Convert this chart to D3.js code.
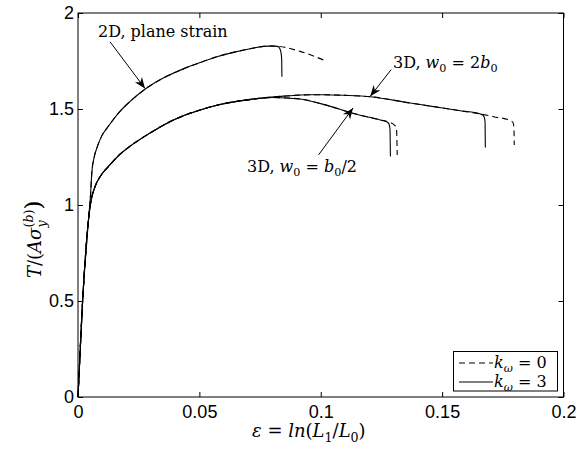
<!DOCTYPE html>
<html lang="en">
<head>
  <meta charset="UTF-8">
  <title>T/(A sigma) vs strain</title>
  <script src="https://cdn.jsdelivr.net/npm/d3@7"></script>
  <style>
    body { margin: 0; background: #fff; }
  </style>
</head>
<body>
  <div id="box"></div>
  <script>
    // 画布
    const width = 586
    const height = 456
    const margin = { left: 78, right: 22.5, top: 13, bottom: 59 }

    // 刻度
    const xTicks = [0, 0.05, 0.1, 0.15, 0.2]
    const xTickLabels = ['0', '0.05', '0.1', '0.15', '0.2']
    const yTicks = [0, 0.5, 1, 1.5, 2]
    const yTickLabels = ['0', '0.5', '1', '1.5', '2']

    // 2D, plane strain
    const plane2D_k3 = [
      [0, 0], [0.0019, 0.5], [0.0043, 0.92], [0.0052, 1.06], [0.0057, 1.17], [0.0066, 1.245],
      [0.008, 1.305], [0.0098, 1.36], [0.0125, 1.41], [0.0173, 1.488], [0.0215, 1.54],
      [0.0276, 1.603], [0.0365, 1.67], [0.0434, 1.709], [0.0503, 1.742],
      [0.0572, 1.772], [0.064, 1.795], [0.0709, 1.814], [0.0765, 1.826], [0.08, 1.829],
      [0.0822, 1.826], [0.0831, 1.815], [0.0836, 1.795], [0.0839, 1.76], [0.084, 1.668]
    ]
    const plane2D_k0 = [
      [0, 0], [0.0019, 0.5], [0.0043, 0.92], [0.0052, 1.06], [0.0057, 1.17], [0.0066, 1.245],
      [0.008, 1.305], [0.0098, 1.36], [0.0125, 1.41], [0.0173, 1.488], [0.0215, 1.54],
      [0.0276, 1.603], [0.0365, 1.67], [0.0434, 1.709], [0.0503, 1.742],
      [0.0572, 1.772], [0.064, 1.795], [0.0709, 1.814], [0.0765, 1.826], [0.0812, 1.827],
      [0.0915, 1.8], [0.1012, 1.755]
    ]

    // 3D, w0 = 2b0
    const wide3D_k3 = [
      [0, 0], [0.0019, 0.5], [0.0043, 0.92], [0.0052, 1.01], [0.007, 1.095], [0.0095, 1.155],
      [0.0125, 1.2], [0.0165, 1.255], [0.0208, 1.3], [0.0297, 1.375], [0.0365, 1.425],
      [0.0434, 1.465], [0.0503, 1.495], [0.0572, 1.52], [0.0709, 1.55], [0.0847, 1.567],
      [0.0957, 1.574], [0.1012, 1.574], [0.11, 1.571], [0.1204, 1.564], [0.1369, 1.531],
      [0.1452, 1.515], [0.1575, 1.491], [0.1658, 1.474], [0.1668, 1.468], [0.1674, 1.455],
      [0.1677, 1.43], [0.1678, 1.3]
    ]
    const wide3D_k0 = [
      [0, 0], [0.0019, 0.5], [0.0043, 0.92], [0.0052, 1.01], [0.007, 1.095], [0.0095, 1.155],
      [0.0125, 1.2], [0.0165, 1.255], [0.0208, 1.3], [0.0297, 1.375], [0.0365, 1.425],
      [0.0434, 1.465], [0.0503, 1.495], [0.0572, 1.52], [0.0709, 1.55], [0.0847, 1.567],
      [0.0957, 1.574], [0.1012, 1.574], [0.11, 1.571], [0.1204, 1.564], [0.1369, 1.531],
      [0.1452, 1.515], [0.1575, 1.491], [0.1658, 1.474], [0.1712, 1.46], [0.1781, 1.44],
      [0.1792, 1.43], [0.1796, 1.4], [0.1797, 1.3125]
    ]

    // 3D, w0 = b0/2
    const narrow3D_k3 = [
      [0, 0], [0.0019, 0.5], [0.0043, 0.92], [0.0052, 1.01], [0.007, 1.095], [0.0095, 1.155],
      [0.0125, 1.2], [0.0165, 1.255], [0.0208, 1.3], [0.0297, 1.375], [0.0365, 1.425],
      [0.0434, 1.465], [0.0503, 1.495], [0.0572, 1.52], [0.0709, 1.549], [0.08, 1.56],
      [0.0915, 1.552], [0.1, 1.528], [0.1135, 1.477], [0.1245, 1.443], [0.127, 1.435],
      [0.128, 1.425], [0.1285, 1.4], [0.1287, 1.252]
    ]
    const narrow3D_k0 = [
      [0, 0], [0.0019, 0.5], [0.0043, 0.92], [0.0052, 1.01], [0.007, 1.095], [0.0095, 1.155],
      [0.0125, 1.2], [0.0165, 1.255], [0.0208, 1.3], [0.0297, 1.375], [0.0365, 1.425],
      [0.0434, 1.465], [0.0503, 1.495], [0.0572, 1.52], [0.0709, 1.549], [0.08, 1.56],
      [0.0915, 1.552], [0.1, 1.528], [0.1135, 1.477], [0.1245, 1.443], [0.128, 1.432],
      [0.1305, 1.415], [0.1312, 1.4], [0.1315, 1.26]
    ]

    const series = [
      { data: plane2D_k0, dashed: true },
      { data: plane2D_k3, dashed: false },
      { data: wide3D_k0, dashed: true },
      { data: wide3D_k3, dashed: false },
      { data: narrow3D_k0, dashed: true },
      { data: narrow3D_k3, dashed: false }
    ]

    const svg = d3.select('#box').append('svg')
      .attr('width', width)
      .attr('height', height)

    const xScale = d3.scaleLinear().domain([0, 0.2]).range([margin.left, width - margin.right])
    const yScale = d3.scaleLinear().domain([0, 2]).range([height - margin.bottom, margin.top])

    // 数学文字: 一段一段的 tspan
    function mathText(sel, parts, size) {
      let shift = 0
      parts.forEach(p => {
        const t = sel.append('tspan').text(p.t)
        const fs = p.sz || (p.s ? size * 0.7 : size)
        const target = p.s === 'sub' ? size * 0.28 : p.s === 'sup' ? -size * 0.45 : 0
        t.attr('font-size', fs).attr('font-style', p.i ? 'italic' : 'normal')
        if (target !== shift) t.attr('dy', target - shift)
        if (p.dx) t.attr('dx', p.dx)
        shift = target
      })
    }

    // 坐标轴
    const fmtX = d => xTickLabels[xTicks.indexOf(d)]
    const fmtY = d => yTickLabels[yTicks.indexOf(d)]

    const axisStyle = g => {
      g.select('.domain').remove()
      g.selectAll('line').attr('stroke', '#000')
      g.selectAll('text').attr('font-family', '"Liberation Sans", Arial, sans-serif').attr('font-size', 18).attr('fill', '#000')
    }

    svg.append('g')
      .attr('transform', `translate(0,${yScale(0)})`)
      .call(d3.axisBottom(xScale).tickValues(xTicks).tickFormat(fmtX).tickSizeInner(-5).tickSizeOuter(0).tickPadding(8))
      .call(axisStyle)
    svg.append('g')
      .attr('transform', `translate(0,${yScale(2)})`)
      .call(d3.axisTop(xScale).tickValues(xTicks).tickFormat('').tickSizeInner(-5).tickSizeOuter(0))
      .call(axisStyle)
    svg.append('g')
      .attr('transform', `translate(${xScale(0)},0)`)
      .call(d3.axisLeft(yScale).tickValues(yTicks).tickFormat(fmtY).tickSizeInner(-5).tickSizeOuter(0).tickPadding(4))
      .call(axisStyle)
    svg.append('g')
      .attr('transform', `translate(${xScale(0.2)},0)`)
      .call(d3.axisRight(yScale).tickValues(yTicks).tickFormat('').tickSizeInner(-5).tickSizeOuter(0))
      .call(axisStyle)

    svg.append('rect')
      .attr('x', xScale(0)).attr('y', yScale(2))
      .attr('width', xScale(0.2) - xScale(0)).attr('height', yScale(0) - yScale(2))
      .attr('fill', 'none').attr('stroke', '#000').attr('stroke-width', 1)

    // 曲线
    const line = d3.line().x(d => xScale(d[0])).y(d => yScale(d[1])).curve(d3.curveMonotoneX)
    svg.selectAll('.curve').data(series).join('path')
      .attr('class', 'curve')
      .attr('d', d => line(d.data))
      .attr('fill', 'none')
      .attr('stroke', '#000')
      .attr('stroke-width', 1.1)
      .attr('stroke-dasharray', d => d.dashed ? '6,4' : null)

    // 箭头
    svg.append('defs').append('marker')
      .attr('id', 'arrow').attr('viewBox', '0 0 10 10').attr('refX', 10).attr('refY', 5)
      .attr('markerWidth', 11).attr('markerHeight', 11).attr('markerUnits', 'userSpaceOnUse')
      .attr('orient', 'auto')
      .append('path').attr('d', 'M0,1 L10,5 L0,9 L3,5 Z').attr('fill', '#000')

    const serif = '"DejaVu Serif", "Liberation Serif", serif'
    const notes = [
      { from: [0.0132, 1.85], to: [0.0276, 1.607], x: 98, y: 37,
        parts: [{ t: '2D, plane strain' }] },
      { from: [0.1290, 1.705], to: [0.1204, 1.566], x: 393, y: 68,
        parts: [{ t: '3D, ' }, { t: 'w', i: true }, { t: '0', s: 'sub' }, { t: ' = 2' }, { t: 'b', i: true }, { t: '0', s: 'sub' }] },
      { from: [0.0991, 1.261], to: [0.1133, 1.505], x: 247, y: 172,
        parts: [{ t: '3D, ' }, { t: 'w', i: true }, { t: '0', s: 'sub' }, { t: ' = ' }, { t: 'b', i: true }, { t: '0', s: 'sub' }, { t: '/2' }] }
    ]
    notes.forEach(n => {
      svg.append('line')
        .attr('x1', xScale(n.from[0])).attr('y1', yScale(n.from[1]))
        .attr('x2', xScale(n.to[0])).attr('y2', yScale(n.to[1]))
        .attr('stroke', '#000').attr('stroke-width', 1)
        .attr('marker-end', 'url(#arrow)')
      const t = svg.append('text').attr('x', n.x).attr('y', n.y)
        .attr('font-family', serif).attr('font-size', 16).attr('fill', '#000')
      mathText(t, n.parts, 16)
    })

    // 轴标题
    const xl = svg.append('text').attr('x', 252).attr('y', 437)
      .attr('font-family', serif).attr('font-size', 18).attr('fill', '#000')
    mathText(xl, [{ t: 'ε', i: true }, { t: ' = ' }, { t: 'ln', i: true }, { t: '(' }, { t: 'L', i: true },
      { t: '1', s: 'sub' }, { t: '/' }, { t: 'L', i: true }, { t: '0', s: 'sub' }, { t: ')' }], 18)

    const yl = svg.append('text')
      .attr('transform', 'translate(41,278) rotate(-90)')
      .attr('font-family', serif).attr('font-size', 18).attr('fill', '#000')
    mathText(yl, [{ t: 'T', i: true }, { t: '/(' }, { t: 'A', i: true }, { t: 'σ', i: true },
      { t: 'y', i: true, s: 'sub' }, { t: '(', s: 'sup', dx: -7 }, { t: 'b', i: true, s: 'sup' }, { t: ')', s: 'sup' },
      { t: ')', sz: 23 }], 18)

    // 图例
    const legend = svg.append('g')
    legend.append('rect')
      .attr('x', 453.5).attr('y', 351.5).attr('width', 104).attr('height', 39.5)
      .attr('fill', '#fff').attr('stroke', '#000').attr('stroke-width', 1)
    const legendItems = [
      { dashed: true, label: '0', y: 363 },
      { dashed: false, label: '3', y: 382 }
    ]
    legendItems.forEach(d => {
      legend.append('line')
        .attr('x1', 459).attr('x2', 493).attr('y1', d.y).attr('y2', d.y)
        .attr('stroke', '#000').attr('stroke-width', 1)
        .attr('stroke-dasharray', d.dashed ? '6,4' : null)
      const t = legend.append('text').attr('x', 494).attr('y', d.y + 5)
        .attr('font-family', serif).attr('font-size', 16).attr('fill', '#000')
      mathText(t, [{ t: 'k', i: true }, { t: 'ω', i: true, s: 'sub' }, { t: ' = ' + d.label }], 16)
    })
  </script>
</body>
</html>
